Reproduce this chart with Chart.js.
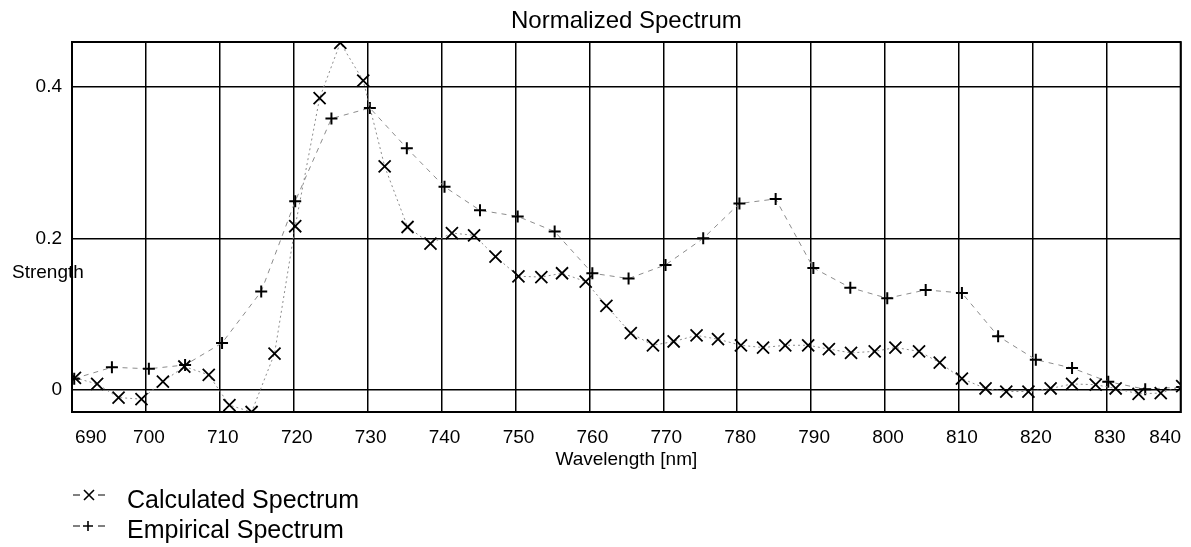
<!DOCTYPE html>
<html>
<head>
<meta charset="utf-8">
<title>Normalized Spectrum</title>
<script src="https://cdn.jsdelivr.net/npm/chart.js@4/dist/chart.umd.min.js"></script>
<style>
  html, body { margin: 0; padding: 0; background: #fff; }
  #chart { display: block; }
</style>
</head>
<body>
<canvas id="chart" width="1191" height="547"></canvas>
<script>
// values
const calcWavelengths = [690.4, 693.4, 696.3, 699.4, 702.3, 705.2, 708.5, 711.3, 714.3, 717.4,
    720.2, 723.5, 726.3, 729.4, 732.3, 735.4, 738.5, 741.4, 744.4, 747.3,
    750.4, 753.5, 756.3, 759.5, 762.3, 765.6, 768.6, 771.4, 774.5, 777.4,
    780.5, 783.5, 786.5, 789.6, 792.4, 795.4, 798.6, 801.4, 804.6, 807.4,
    810.4, 813.6, 816.4, 819.4, 822.4, 825.3, 828.5, 831.2, 834.3, 837.3, 840.2];
const calcStrength = [0.016, 0.008, -0.010, -0.012, 0.011, 0.031, 0.020, -0.020, -0.029, 0.048,
    0.216, 0.385, 0.458, 0.408, 0.295, 0.215, 0.193, 0.207, 0.204, 0.176,
    0.150, 0.149, 0.154, 0.143, 0.111, 0.075, 0.059, 0.064, 0.072, 0.067,
    0.059, 0.056, 0.059, 0.059, 0.054, 0.049, 0.051, 0.056, 0.051, 0.036,
    0.015, 0.002, -0.002, -0.002, 0.002, 0.008, 0.007, 0.002, -0.005, -0.004, 0.005];

const empWavelengths = [690.3, 695.4, 700.4, 705.3, 710.3, 715.6, 720.2, 725.1, 730.3, 735.3,
    740.4, 745.2, 750.3, 755.3, 760.4, 765.3, 770.3, 775.4, 780.3, 785.2,
    790.3, 795.3, 800.3, 805.5, 810.4, 815.3, 820.4, 825.3, 830.2, 835.2, 840.2];
const empStrength = [0.015, 0.030, 0.028, 0.033, 0.062, 0.130, 0.249, 0.358, 0.372, 0.319,
    0.268, 0.237, 0.229, 0.209, 0.154, 0.147, 0.165, 0.200, 0.246, 0.252,
    0.161, 0.135, 0.121, 0.132, 0.128, 0.071, 0.040, 0.029, 0.011, 0.001, 0.004];

const xTicks = [690, 700, 710, 720, 730, 740, 750, 760, 770, 780, 790, 800, 810, 820, 830, 840];
const yTicks = [0, 0.2, 0.4];
const yTickLabels = ['0', '0.2', '0.4'];
const seriesNames = ['Calculated Spectrum', 'Empirical Spectrum'];

const FONT = "'Liberation Sans', Arial, sans-serif";

function toPoints(xs, ys) {
    return xs.map((x, i) => ({ x: x, y: ys[i] }));
}

// end labels sit inside the frame in the original, pad them inwards
function xLabel(v) {
    if (v === 690) return '      690';
    if (v === 840) return '840       ';
    return String(v);
}

// title, y label, frame and legend are drawn by hand like the old plot
const decorations = {
    id: 'decorations',
    beforeDraw(chart) {
        const ctx = chart.ctx;
        ctx.save();
        ctx.fillStyle = '#fff';
        ctx.fillRect(0, 0, chart.width, chart.height);
        ctx.restore();
    },
    afterDraw(chart) {
        const ctx = chart.ctx;
        const area = chart.chartArea;
        ctx.save();

        // frame
        ctx.strokeStyle = '#000';
        ctx.lineWidth = 2;
        ctx.strokeRect(area.left, area.top, area.right - area.left, area.bottom - area.top);

        // title
        ctx.fillStyle = '#000';
        ctx.font = '24px ' + FONT;
        ctx.textAlign = 'center';
        ctx.textBaseline = 'alphabetic';
        ctx.fillText('Normalized Spectrum', (area.left + area.right) / 2, 28);

        // y label
        ctx.font = '19px ' + FONT;
        ctx.textAlign = 'left';
        ctx.fillText('Strength', 12, 278);

        // legend
        const rows = [
            { y: 495, text: 501, style: 'crossRot' },
            { y: 526, text: 531, style: 'cross' }
        ];
        rows.forEach((row, i) => {
            ctx.strokeStyle = '#000';
            ctx.lineWidth = 1;
            ctx.beginPath();
            ctx.moveTo(73, row.y); ctx.lineTo(80, row.y);
            ctx.moveTo(98, row.y); ctx.lineTo(105, row.y);
            ctx.stroke();
            ctx.lineWidth = 1.6;
            ctx.beginPath();
            if (row.style === 'crossRot') {
                ctx.moveTo(84, row.y - 5); ctx.lineTo(94, row.y + 5);
                ctx.moveTo(94, row.y - 5); ctx.lineTo(84, row.y + 5);
            } else {
                ctx.moveTo(83, row.y); ctx.lineTo(93, row.y);
                ctx.moveTo(88, row.y - 5); ctx.lineTo(88, row.y + 5);
            }
            ctx.stroke();
            ctx.font = '25px ' + FONT;
            ctx.textBaseline = 'middle';
            ctx.fillText(seriesNames[i], 127, row.text);
        });
        ctx.restore();
    }
};

new Chart(document.getElementById('chart'), {
    type: 'scatter',
    data: {
        datasets: [{
            label: seriesNames[0],
            data: toPoints(calcWavelengths, calcStrength),
            showLine: true,
            borderColor: '#8c8c8c',
            borderWidth: 1,
            borderDash: [2, 3],
            pointStyle: 'crossRot',
            pointRadius: 8.5,
            pointBorderColor: '#000',
            pointBorderWidth: 1.8,
            clip: 0
        }, {
            label: seriesNames[1],
            data: toPoints(empWavelengths, empStrength),
            showLine: true,
            borderColor: '#8c8c8c',
            borderWidth: 1,
            borderDash: [5, 5],
            pointStyle: 'cross',
            pointRadius: 6,
            pointBorderColor: '#000',
            pointBorderWidth: 2,
            clip: 0
        }]
    },
    options: {
        responsive: false,
        animation: false,
        layout: { padding: { top: 42, right: 9, bottom: 65, left: 0 } },
        plugins: {
            legend: { display: false },
            title: { display: false },
            tooltip: { enabled: false }
        },
        scales: {
            x: {
                type: 'linear',
                min: 690,
                max: 840,
                afterBuildTicks: scale => { scale.ticks = xTicks.map(v => ({ value: v })); },
                afterFit: scale => {
                    scale.height = 70;
                    scale.paddingLeft = 0;
                    scale.paddingRight = 0;
                },
                grid: { color: '#000', lineWidth: 1.5, drawTicks: false },
                border: { color: '#000', width: 2 },
                ticks: {
                    color: '#000',
                    font: { family: FONT, size: 19 },
                    padding: 14,
                    labelOffset: 3,
                    maxRotation: 0,
                    autoSkip: false,
                    callback: xLabel
                },
                title: {
                    display: true,
                    text: 'Wavelength [nm]',
                    color: '#000',
                    font: { family: FONT, size: 19 },
                    padding: { top: 0, bottom: 11 }
                }
            },
            y: {
                min: -0.029,
                max: 0.459,
                afterBuildTicks: scale => { scale.ticks = yTicks.map(v => ({ value: v })); },
                afterFit: scale => {
                    scale.width = 72;
                    scale.paddingTop = 0;
                    scale.paddingBottom = 0;
                },
                grid: { color: '#000', lineWidth: 1.5, drawTicks: false },
                border: { color: '#000', width: 2 },
                ticks: {
                    color: '#000',
                    font: { family: FONT, size: 19 },
                    padding: 10,
                    callback: v => yTickLabels[yTicks.indexOf(v)]
                }
            }
        }
    },
    plugins: [decorations]
});
</script>
</body>
</html>
